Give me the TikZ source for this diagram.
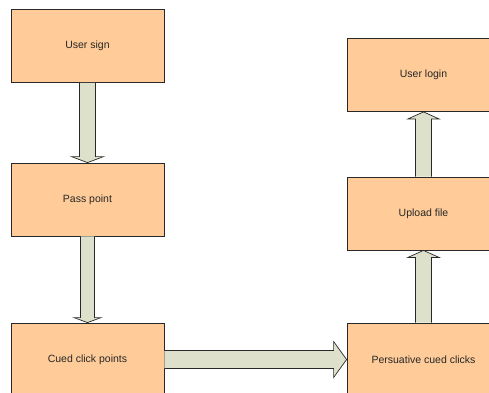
\documentclass[tikz,border=0pt]{standalone}
\usepackage{fontspec}
\setmainfont{Liberation Sans}
\usetikzlibrary{calc}
\definecolor{boxfill}{RGB}{255,204,153}
\definecolor{arrowfill}{RGB}{221,225,203}
\definecolor{edge}{RGB}{40,40,40}
\begin{document}
\begin{tikzpicture}[x=1pt,y=-1pt,
  stepbox/.style={draw=edge, line width=0.8pt, fill=boxfill, minimum width=153pt,
    minimum height=73pt, inner sep=0pt, font=\fontsize{10.5}{12}\selectfont, text=black!85},
  blockarrow/.style={draw=edge, line width=0.7pt, fill=arrowfill, line join=miter}]
\useasboundingbox (0,0) rectangle (489,392);
\clip (0,0) rectangle (489,392);
\node[stepbox] (us) at (87.5,46) {User sign};
\node[stepbox] (pp) at (87.5,199.5) {Pass point};
\node[stepbox] (cc) at (87.5,359.5) {Cued click points};
\node[stepbox] (ul) at (423.5,75) {User login};
\node[stepbox] (uf) at (423.5,213.5) {Upload file};
\node[stepbox] (pc) at (423.5,359.5) {Persuative cued clicks};
% User sign -> Pass point
\draw[blockarrow] ($(us.south)+(-8,0)$) -- ($(pp.north)+(-8,-6)$) -- ($(pp.north)+(-16,-6)$)
  -- (pp.north) -- ($(pp.north)+(16,-6)$) -- ($(pp.north)+(8,-6)$) -- ($(us.south)+(8,0)$);
% Pass point -> Cued click points
\draw[blockarrow] ($(pp.south)+(-7,0)$) -- ($(cc.north)+(-7,-5)$) -- ($(cc.north)+(-13.5,-5)$)
  -- (cc.north) -- ($(cc.north)+(13.5,-5)$) -- ($(cc.north)+(7,-5)$) -- ($(pp.south)+(7,0)$);
% Cued click points -> Persuative cued clicks
\draw[blockarrow] ($(cc.east)+(0,-9)$) -- ($(pc.west)+(-13,-9)$) -- ($(pc.west)+(-13,-18)$)
  -- (pc.west) -- ($(pc.west)+(-13,18)$) -- ($(pc.west)+(-13,9)$) -- ($(cc.east)+(0,9)$);
% Persuative cued clicks -> Upload file
\draw[blockarrow] ($(pc.north)+(-8,0)$) -- ($(uf.south)+(-8,7)$) -- ($(uf.south)+(-15.5,7)$)
  -- (uf.south) -- ($(uf.south)+(15.5,7)$) -- ($(uf.south)+(8,7)$) -- ($(pc.north)+(8,0)$);
% Upload file -> User login
\draw[blockarrow] ($(uf.north)+(-8,0)$) -- ($(ul.south)+(-8,7)$) -- ($(ul.south)+(-15.5,7)$)
  -- (ul.south) -- ($(ul.south)+(15.5,7)$) -- ($(ul.south)+(8,7)$) -- ($(uf.north)+(8,0)$);
\end{tikzpicture}
\end{document}
